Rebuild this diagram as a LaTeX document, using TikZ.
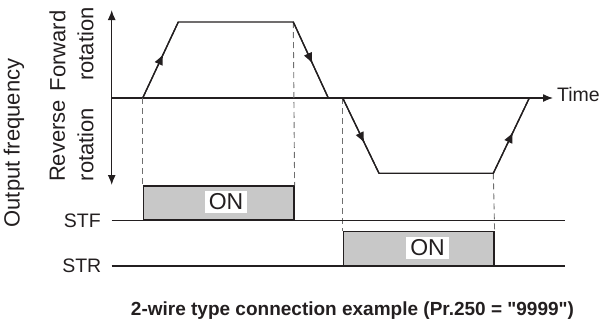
\documentclass[tikz,border=0pt]{standalone}
\usepackage{fontspec}
\setmainfont{Liberation Sans}[Ligatures=TeXOff]
\usetikzlibrary{arrows.meta,decorations.markings}
\definecolor{ink}{RGB}{35,31,32}
\definecolor{dashgray}{RGB}{110,110,110}
\definecolor{boxfill}{RGB}{200,200,200}
\begin{document}
\begin{tikzpicture}[x=1pt,y=-1pt,
  line/.style={ink, line width=1.3pt},
  dashline/.style={dashgray, line width=0.9pt, dash pattern=on 6pt off 4pt},
  lbl/.style={inner sep=0pt, text=ink, font=\fontsize{19.5}{20}\selectfont},
  rlbl/.style={inner sep=0pt, rotate=90, text=ink, font=\fontsize{22}{22}\selectfont},
  onbox/.style={fill=white, inner xsep=4pt, inner ysep=2.5pt, text=ink, font=\fontsize{23}{23}\selectfont},
  sigbox/.style={draw=ink, line width=1.3pt, fill=boxfill, inner sep=0pt, minimum width=150.6pt, minimum height=34pt, anchor=south west},
  midarrow/.style={postaction={decorate}, decoration={markings, mark=at position #1 with {\arrow{Latex[length=11pt,width=9pt]}}}}]
\useasboundingbox (0,0) rectangle (605,322);

% axes
\coordinate (ytop) at (111.7,10);
\coordinate (ybot) at (111.7,185);
\coordinate (o) at (111.7,98);
\coordinate (tend) at (553,98);
\draw[line, {Latex[length=10pt,width=8pt]}-{Latex[length=10pt,width=8pt]}] (ytop) -- (ybot);
\draw[line, -{Latex[length=10pt,width=8pt]}] (o) -- (tend);
\node[lbl, anchor=base west] (time) at (557,101) {Time};

% curve points
\coordinate (f0) at (142.7,98);
\coordinate (f1) at (178.3,22);
\coordinate (f2) at (293.3,22);
\coordinate (f3) at (328.3,98);
\coordinate (r0) at (342.7,98);
\coordinate (r1) at (379,173.3);
\coordinate (r2) at (493.3,173.3);
\coordinate (r3) at (529.3,98);

% signal boxes
\node[sigbox] (stf) at (142.7,220.7) {};
\node[sigbox, minimum height=33.7pt] (str) at (342.7,266) {};

% dashed guides
\draw[dashline] (f0) -- (stf.north west);
\draw[dashline] (f2) -- (stf.north east);
\draw[dashline] (r0) -- (str.north west);
\draw[dashline] (r2) -- (str.north east);

% frequency curve
\draw[line, line join=miter] (f0) -- (f1) -- (f2) -- (f3);
\draw[line, line join=miter] (r0) -- (r1) -- (r2) -- (r3);
\draw[line, midarrow=0.58] (f0) -- (f1);
\draw[line, midarrow=0.55] (f2) -- (f3);
\draw[line, midarrow=0.6] (r0) -- (r1);
\draw[line, midarrow=0.55] (r2) -- (r3);

% signal lines
\coordinate (stfL) at (111.7,220.7);
\coordinate (stfR) at (565,220.7);
\coordinate (strL) at (111.7,266);
\coordinate (strR) at (565,266);
\draw[line] (stfL) -- (stfR);
\draw[line] (strL) -- (strR);
\node[lbl, anchor=east] (stflbl) at (101,220.7) {STF};
\node[lbl, anchor=east] (strlbl) at (101.5,265.5) {STR};

\node[onbox] (on1) at (226,202) {ON};
\node[onbox] (on2) at (427.5,248) {ON};

% axis labels
\node[rlbl] (ylab) at (14,143) {Output frequency};
\node[rlbl] (fwd) at (57.5,51) {Forward};
\node[rlbl] (fwdr) at (85.5,44) {rotation};
\node[rlbl] (rev) at (57.5,141) {Reverse};
\node[rlbl] (revr) at (85.5,144.5) {rotation};

% caption
\node[inner sep=0pt, text=ink, anchor=base, font=\bfseries\fontsize{19}{19}\selectfont] (cap) at (352.5,315) {2-wire type connection example (Pr.250 = "9999")};
\end{tikzpicture}
\end{document}
